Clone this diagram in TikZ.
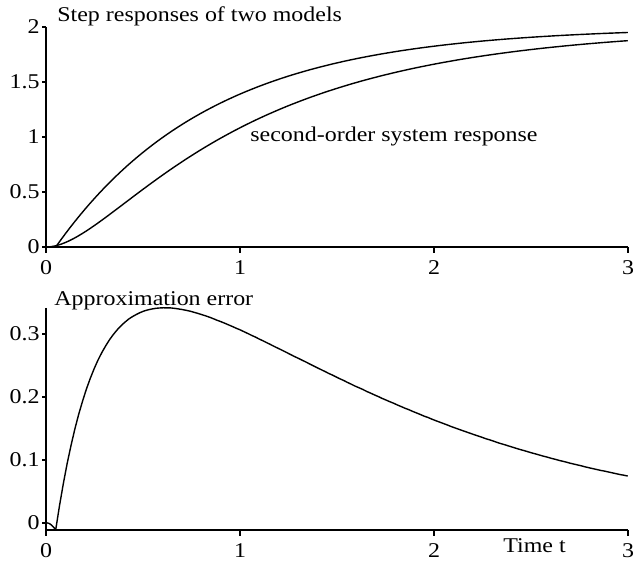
\documentclass[tikz,border=0pt]{standalone}
\usepackage{fontspec}
\setmainfont{Liberation Serif}[FakeStretch=1.14]
\tikzset{
  axisline/.style={line width=0.7pt, black, line cap=butt},
  curve/.style={line width=0.7pt, black, line join=round},
  ticklabel/.style={inner sep=0pt, font=\fontsize{10.5}{12}\selectfont},
  plottitle/.style={inner sep=0pt, anchor=base west, font=\fontsize{10.5}{12}\selectfont},
}

\begin{document}
\begin{tikzpicture}
  \useasboundingbox (0,0) rectangle (317pt,280.5pt);

  % Upper panel: both step responses
  \begin{scope}[shift={(23pt,157pt)}, x=97pt, y=55pt]
    \draw[axisline] (0,2) -- (0,0) -- (3,0);
    \foreach \t [count=\i] in {0,1,2,3} {
      \draw[axisline] (\t,0) -- ++(0,-3pt);
      \node[ticklabel, anchor=north] (xtop\i) at ([yshift=-6.5pt]\t,0) {\t};
    }
    \foreach \y [count=\i] in {0,0.5,1,1.5,2} {
      \draw[axisline] (0,\y) -- ++(-2pt,0);
      \node[ticklabel, anchor=east] (ytop\i) at ([xshift=-3pt]0,\y) {\y};
    }
    % first-order model with dead time
    \draw[curve] (0,0) -- plot[domain=0.05:3, samples=120] (\x,{2*(1-exp(-(\x-0.05)/0.8))});
    % second-order system
    \draw[curve] plot[domain=0:3, samples=150] (\x,{2*(1-1.25*exp(-\x)+0.25*exp(-5*\x))});
  \end{scope}

  % Lower panel: difference of the two responses
  \begin{scope}[shift={(23pt,19pt)}, x=97pt, y=315pt]
    \draw[axisline] (0,0.3415) -- (0,-0.0113) -- (3,-0.0113);
    \foreach \t [count=\i] in {0,1,2,3} {
      \draw[axisline] (\t,-0.0113) -- ++(0,-3pt);
      \node[ticklabel, anchor=north] (xbot\i) at ([yshift=-6.5pt]\t,-0.0113) {\t};
    }
    \foreach \y [count=\i] in {0,0.1,0.2,0.3} {
      \draw[axisline] (0,\y) -- ++(-2pt,0);
      \node[ticklabel, anchor=east] (ybot\i) at ([xshift=-3pt]0,\y) {\y};
    }
    \draw[curve] plot[domain=0:0.05, samples=15] (\x,{-2*(1-1.25*exp(-\x)+0.25*exp(-5*\x))})
      -- plot[domain=0.05:3, samples=150] (\x,{2*(1.25*exp(-\x)-0.25*exp(-5*\x))-2*exp(-(\x-0.05)/0.8)});
  \end{scope}

  % Titles and labels
  \node[plottitle] (toptitle) at (28.5pt,269.5pt) {Step responses of two models};
  \node[plottitle] (seclabel) at (125pt,209.5pt) {second-order system response};
  \node[plottitle] (bottitle) at (27pt,127.5pt) {Approximation error};
  \node[plottitle] (timelabel) at (251.5pt,4pt) {Time t};
\end{tikzpicture}
\end{document}
